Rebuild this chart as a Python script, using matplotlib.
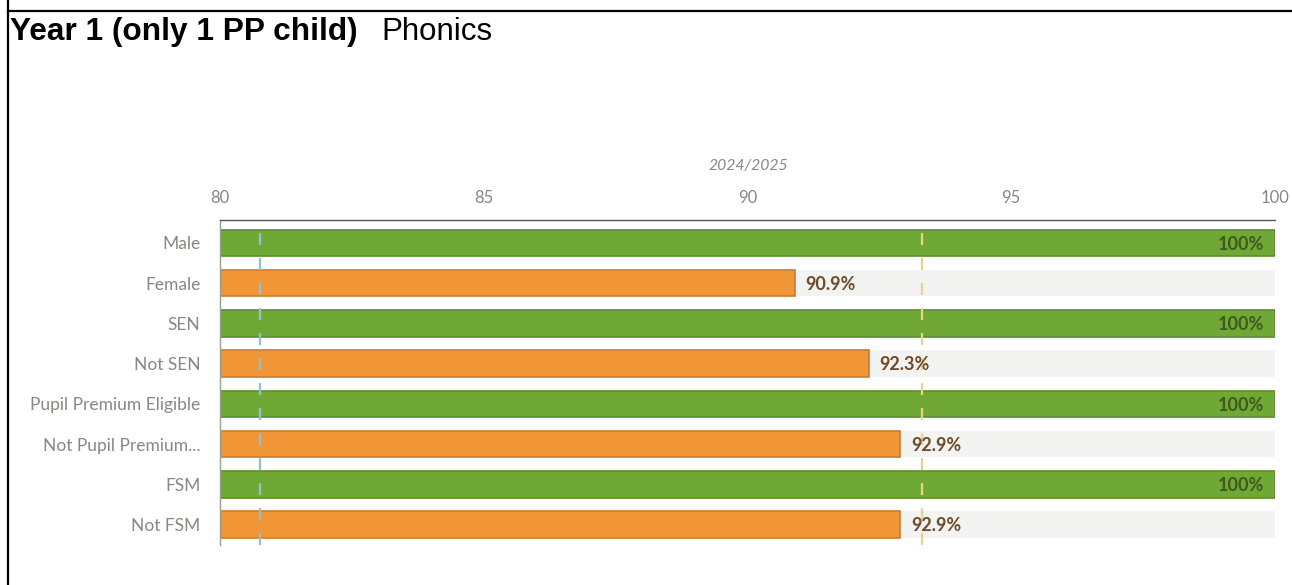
import matplotlib
matplotlib.use("Agg")
import matplotlib.pyplot as plt
from matplotlib.lines import Line2D

plt.rcParams['lines.scale_dashes'] = False

categories = ["Male", "Female", "SEN", "Not SEN", "Pupil Premium Eligible",
              "Not Pupil Premium...", "FSM", "Not FSM"]
values = [100, 90.9, 100, 92.3, 100, 92.9, 100, 92.9]
labels = ["100%", "90.9%", "100%", "92.3%", "100%", "92.9%", "100%", "92.9%"]
series_kind = ["green", "orange", "green", "orange", "green", "orange", "green", "orange"]
xticks = [80, 85, 90, 95, 100]
ref_blue = 80.76
ref_yellow = 93.3
period = "2024/2025"

W, H = 1292, 585
fig = plt.figure(figsize=(W / 100, H / 100), dpi=100)
fig.patch.set_facecolor("white")

ax_l, ax_r, ax_t, ax_b = 220, 1275, 220, 545
ax = fig.add_axes([ax_l / W, 1 - ax_b / H, (ax_r - ax_l) / W, (ax_b - ax_t) / H])

xmin, xmax = 80, 100
ax.set_xlim(xmin, xmax)
ax.set_ylim(7.51, -0.57)

FONT = "Lato"
fill = {"green": "#6fa834", "orange": "#f09636"}
edge = {"green": "#5c8e2c", "orange": "#cf7b2c"}
track = "#f3f3f1"
ypos = list(range(len(categories)))
bh = 0.66

for i, (v, k, lab) in enumerate(zip(values, series_kind, labels)):
    ax.barh(i, xmax - xmin, left=xmin, height=bh, color=track, zorder=1, linewidth=0)
    ax.barh(i, v - xmin, left=xmin, height=bh, color=fill[k], edgecolor=edge[k],
            linewidth=1.2, zorder=2)
    if k == "green":
        ax.text(v - 0.2, i + 0.03, lab, ha="right", va="center", fontsize=13, fontweight="bold",
                color="#3e5a1e", family=FONT, zorder=5)
    else:
        ax.text(v + 0.2, i + 0.03, lab, ha="left", va="center", fontsize=13, fontweight="bold",
                color="#6e4a28", family=FONT, zorder=5)

for xv, c in [(ref_blue, "#8fc1d3"), (ref_yellow, "#e8d48c")]:
    ax.axvline(xv, ymin=0, ymax=1, color=c, linewidth=1.6, zorder=4,
               dashes=(8.6, 9.4))

ax.xaxis.tick_top()
ax.set_xticks(xticks)
ax.set_xticklabels([str(t) for t in xticks], family=FONT, fontsize=12, color="#8c8680")
ax.tick_params(axis="x", length=0, pad=10)
ax.set_yticks(ypos)
ax.set_yticklabels(categories, family=FONT, fontsize=12.5, color="#8c8680")
ax.tick_params(axis="y", length=0, pad=14)

for s in ["right", "bottom"]:
    ax.spines[s].set_visible(False)
ax.spines["top"].set_color("#555555")
ax.spines["top"].set_linewidth(1.0)
ax.spines["left"].set_color("#9a9a9a")
ax.spines["left"].set_linewidth(1.0)

fig.text(748 / W, 1 - 166 / H, period, ha="center", va="center", fontsize=11.3,
         style="italic", color="#8c8680", family=FONT)

fig.text(10 / W, 1 - 40 / H, "Year 1 (only 1 PP child)", ha="left", va="baseline",
         fontsize=22.8, fontweight="bold", family="Liberation Sans", color="black")
fig.text(381 / W, 1 - 40 / H, "Phonics", ha="left", va="baseline",
         fontsize=22.5, family="Liberation Sans", color="black")

fig.add_artist(Line2D([8 / W, 8 / W], [0, 1], transform=fig.transFigure,
                      color="black", linewidth=1.6))
fig.add_artist(Line2D([8 / W, 1], [1 - 11 / H, 1 - 11 / H], transform=fig.transFigure,
                      color="black", linewidth=1.6))

fig.savefig("out.png", dpi=100)
